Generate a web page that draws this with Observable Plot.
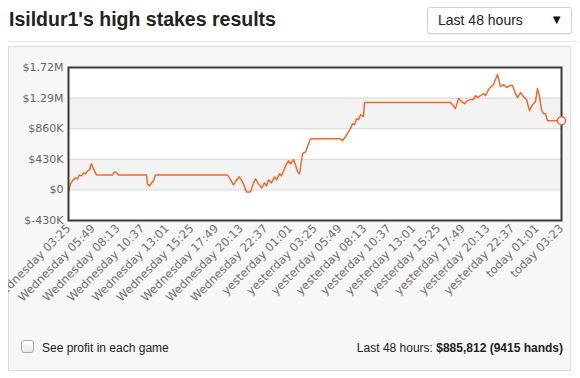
<!DOCTYPE html>
<html>
<head>
<meta charset="utf-8">
<script src="https://cdn.jsdelivr.net/npm/d3@7"></script>
<script src="https://cdn.jsdelivr.net/npm/@observablehq/plot@0.6"></script>
<style>
  html, body { margin: 0; padding: 0; background: #fff; }
  body { width: 580px; height: 378px; position: relative; overflow: hidden; font-family: "Liberation Sans", Arial, sans-serif; }
  #title { position: absolute; left: 9px; top: 8px; font-size: 19.5px; font-weight: bold; color: #222; }
  #dropdown { position: absolute; left: 427px; top: 7px; width: 145px; height: 27px; border: 1px solid #cfcfcf; border-radius: 3px; box-sizing: border-box; background: #fff; box-shadow: 0 1px 1px rgba(0,0,0,0.06); }
  #dropdown .lbl { position: absolute; left: 10px; top: 4px; font-size: 14px; color: #222; }
  #dropdown .arr { position: absolute; right: 8px; top: 4px; font-size: 13px; color: #111; }
  #rule { position: absolute; left: 8px; top: 41px; width: 570px; height: 1px; background: #e6e6e6; }
  #panel { position: absolute; left: 8px; top: 46px; width: 563px; height: 325px; background: #f7f7f7; border: 1px solid #dcdcdc; box-sizing: border-box; }
  #chart { position: absolute; left: 8px; top: 46px; }
  #cb { position: absolute; left: 21px; top: 340px; width: 13px; height: 13px; border: 1px solid #aaa; border-radius: 3px; background: linear-gradient(#fff, #e8e8e8); box-sizing: border-box; }
  #cbl { position: absolute; left: 42px; top: 341px; font-size: 12px; color: #222; }
  #summary { position: absolute; right: 17px; top: 341px; font-size: 12px; color: #222; }
  #summary b { font-weight: bold; }
</style>
</head>
<body>
<div id="title">Isildur1's high stakes results</div>
<div id="dropdown"><span class="lbl">Last 48 hours</span><span class="arr">▼</span></div>
<div id="rule"></div>
<div id="panel"></div>
<div id="chart"></div>
<div id="cb"></div>
<div id="cbl">See profit in each game</div>
<div id="summary">Last 48 hours: <b>$885,812 (9415 hands)</b></div>
<script>
// minutes since Wednesday 03:25
const minutes = [0,12,23,41,53,64,76,88,99,111,123,134,146,163,257,269,280,292,455,461,473,485,496,508,928,946,963,981,998,1016,1039,1063,1080,1092,1109,1127,1144,1156,1168,1185,1203,1214,1232,1243,1261,1273,1284,1296,1314,1325,1337,1349,1366,1384,1395,1413,1588,1600,1617,1635,1646,1658,1670,1681,1693,1705,1722,1728,2230,2242,2259,2277,2294,2312,2329,2347,2364,2376,2388,2405,2423,2434,2452,2469,2481,2504,2522,2540,2557,2575,2592,2604,2621,2639,2656,2674,2691,2709,2726,2738,2750,2761,2773,2785,2796,2878];
// cumulative profit, thousands of $
const profitK = [-28,85,127,169,155,211,197,240,226,268,282,367,296,211,211,254,240,211,211,85,56,99,127,211,211,141,70,141,183,113,-28,-28,99,155,85,28,99,56,141,99,183,141,226,197,296,367,409,367,423,352,254,226,508,536,606,719,719,691,747,818,860,930,916,1001,987,1057,1029,1227,1227,1198,1142,1283,1241,1212,1255,1269,1269,1325,1297,1325,1353,1325,1410,1452,1480,1621,1452,1480,1438,1466,1466,1382,1297,1368,1311,1269,1114,1198,1241,1424,1311,1128,1071,1071,973,973];

const yTickValues = [-430, 0, 430, 860, 1290, 1720];
const yTickLabels = ["$-430K", "$0", "$430K", "$860K", "$1.29M", "$1.72M"];
const xTickMinutes = [0,144,288,432,576,720,864,1008,1152,1296,1440,1584,1728,1872,2016,2160,2304,2448,2592,2736,2878];
const xTickLabels = ["Wednesday 03:25","Wednesday 05:49","Wednesday 08:13","Wednesday 10:37","Wednesday 13:01","Wednesday 15:25","Wednesday 17:49","Wednesday 20:13","Wednesday 22:37","yesterday 01:01","yesterday 03:25","yesterday 05:49","yesterday 08:13","yesterday 10:37","yesterday 13:01","yesterday 15:25","yesterday 17:49","yesterday 20:13","yesterday 22:37","today 01:01","today 03:23"];

const data = minutes.map((m, i) => ({m, v: profitK[i]}));
const last = data[data.length - 1];
const xDomain = [xTickMinutes[0], xTickMinutes[xTickMinutes.length - 1]];
// alternate bands between tick values
const bands = [];
for (let i = 0; i < yTickValues.length - 1; i++) {
  if (i % 2 === 1) bands.push({y1: yTickValues[i], y2: yTickValues[i + 1]});
}
const orange = "#ef6a2a";

const chart = Plot.plot({
  width: 563,
  height: 282,
  marginLeft: 60,
  marginRight: 10,
  marginTop: 21,
  marginBottom: 108,
  style: {background: "transparent", fontFamily: "'DejaVu Sans', Verdana, sans-serif", fontSize: "11px", color: "#666"},
  x: {type: "linear", domain: xDomain},
  y: {domain: [yTickValues[0], yTickValues[yTickValues.length - 1]]},
  marks: [
    Plot.rect([{}], {x1: xDomain[0], x2: xDomain[1], y1: yTickValues[0], y2: yTickValues[yTickValues.length - 1], fill: "#fff"}),
    Plot.rect(bands, {x1: xDomain[0], x2: xDomain[1], y1: "y1", y2: "y2", fill: "#f3f3f3"}),
    Plot.ruleY(yTickValues, {stroke: "#d6d6d6", strokeWidth: 1}),
    Plot.axisY(yTickValues, {tickSize: 0, tickPadding: 5, tickFormat: (d) => yTickLabels[yTickValues.indexOf(d)], label: null, fill: "#666"}),
    Plot.axisX(xTickMinutes, {tickSize: 0, tickPadding: 6, tickRotate: -45, fontSize: 11.5, tickFormat: d => xTickLabels[xTickMinutes.indexOf(d)], label: null, fill: "#707070"}),
    Plot.line(data, {x: "m", y: "v", stroke: orange, strokeWidth: 1.5}),
    Plot.frame({stroke: "#3a3a3a", strokeWidth: 2}),
    Plot.dot([last], {x: "m", y: "v", r: 4, fill: "#fff", stroke: orange, strokeWidth: 1.5})
  ]
});
document.getElementById("chart").appendChild(chart);
</script>
</body>
</html>
